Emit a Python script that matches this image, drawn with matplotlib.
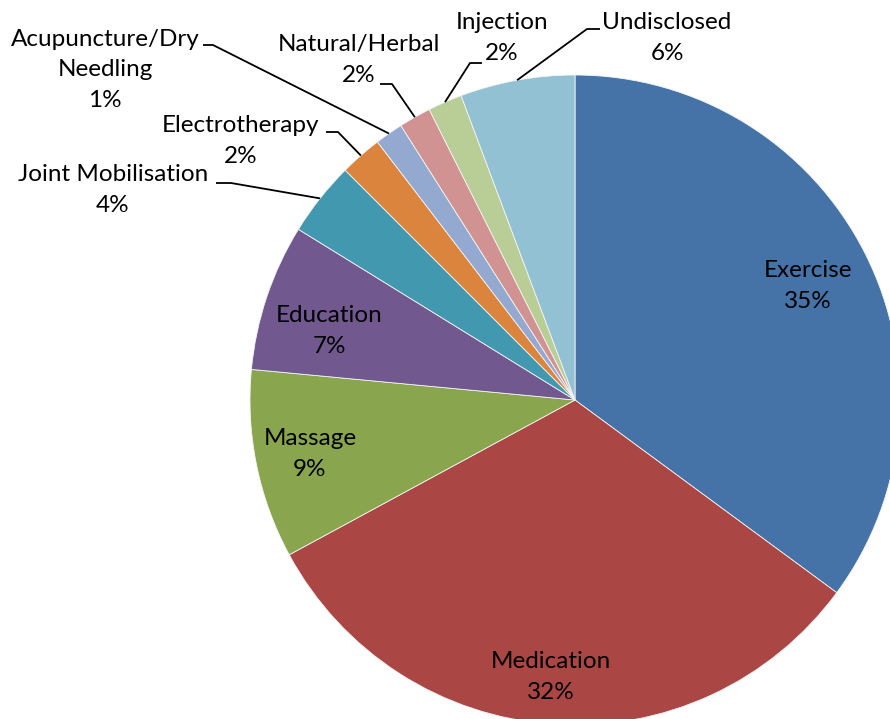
import numpy as np
import matplotlib.pyplot as plt

# treatment share (%), clockwise from 12 o'clock
labels = ['Exercise', 'Medication', 'Massage', 'Education', 'Joint Mobilisation',
          'Electrotherapy', 'Acupuncture/Dry\nNeedling', 'Natural/Herbal',
          'Injection', 'Undisclosed']
values = [35.1, 32.0, 9.4, 7.3, 3.7, 2.1, 1.4, 1.6, 1.7, 5.7]
pct_text = ['35%', '32%', '9%', '7%', '4%', '2%', '1%', '2%', '2%', '6%']
colors = ['#4572A7', '#AA4643', '#89A54E', '#71588F', '#4198AF',
          '#DB843D', '#93A9CF', '#D09392', '#B9CD96', '#92C1D3']

W, H = 890, 719
cx, cy, R = 575, 400, 325   # pixel coords (y from top)

# inside label centres
inside = {0: (808, 286), 1: (551, 677), 2: (310, 454), 3: (329, 331)}

# outside label layout: text centre, elbow of leader line, end of short horizontal
outside = {
    4: ((113, 190), (231, 183), (216, 183)),
    5: ((241, 141), (338, 132), (326, 132)),
    6: ((105, 70), (213, 45), (203, 45)),
    7: ((359, 60), (392, 84), (380, 84)),
    8: ((502, 38), (470, 63), (482, 63)),
    9: ((667, 38), (587, 29), (600, 29)),
}

plt.rcParams['font.family'] = ['Lato', 'DejaVu Sans']

fig = plt.figure(figsize=(W / 100, H / 100), dpi=100)
ax = fig.add_axes([0, 0, 1, 1])

wedges, _ = ax.pie(values, colors=colors, startangle=90, counterclock=False,
                   center=(cx, H - cy), radius=R, frame=True,
                   wedgeprops=dict(linewidth=0.6, edgecolor='#f4f4f4'))
ax.set_xlim(0, W)
ax.set_ylim(0, H)
ax.set_aspect('equal')
ax.axis('off')

fs = 17.5
ls = 1.56
for i, w in enumerate(wedges):
    mid = np.deg2rad((w.theta1 + w.theta2) / 2)
    txt = labels[i] + '\n' + pct_text[i]
    if i in outside:
        (tx, ty), (ex, ey), (hx, hy) = outside[i]
        px = cx + R * np.cos(mid)
        py = H - cy + R * np.sin(mid)
        ax.plot([hx, ex, px], [H - hy, H - ey, py], color='black', lw=1.3,
                solid_capstyle='butt')
    else:
        tx, ty = inside[i]
    ax.text(tx, H - ty, txt, ha='center', va='center', fontsize=fs,
            linespacing=ls)

fig.savefig('out.png', dpi=100)
